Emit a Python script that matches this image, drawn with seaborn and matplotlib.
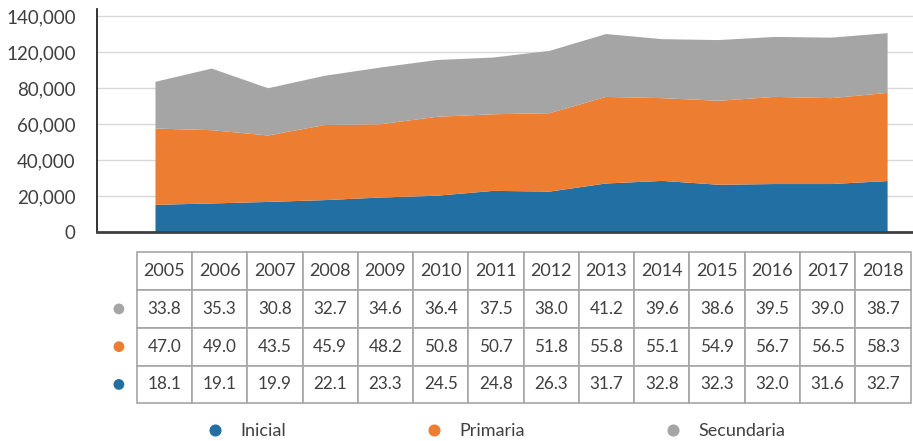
import matplotlib
matplotlib.use("Agg")
import matplotlib.pyplot as plt
from matplotlib.lines import Line2D
import seaborn as sns

# years shown on the chart and in the table
years = [2005, 2006, 2007, 2008, 2009, 2010, 2011, 2012, 2013, 2014, 2015, 2016, 2017, 2018]

# stacked area heights (in the chart's own axis units)
inicial = [15400, 16150, 17000, 18000, 19450, 20450, 23150, 22750, 27250, 28700, 26550, 26950, 26950, 28600]
primaria = [42400, 40750, 36950, 41750, 40750, 43900, 42600, 43600, 48150, 46000, 46700, 48450, 47750, 49050]
secundaria = [26000, 34250, 26250, 27350, 31550, 31550, 31550, 34650, 34950, 32800, 33750, 33350, 33650, 33200]

# values printed in the data table under the chart
tabla_secundaria = [33.8, 35.3, 30.8, 32.7, 34.6, 36.4, 37.5, 38.0, 41.2, 39.6, 38.6, 39.5, 39.0, 38.7]
tabla_primaria = [47.0, 49.0, 43.5, 45.9, 48.2, 50.8, 50.7, 51.8, 55.8, 55.1, 54.9, 56.7, 56.5, 58.3]
tabla_inicial = [18.1, 19.1, 19.9, 22.1, 23.3, 24.5, 24.8, 26.3, 31.7, 32.8, 32.3, 32.0, 31.6, 32.7]

# y axis as labelled in the original (100,000 is skipped there)
y_ticks = [0, 20000, 40000, 60000, 80000, 100000, 120000]
y_labels = ['0', '20,000', '40,000', '60,000', '80,000', '120,000', '140,000']

series = ['Inicial', 'Primaria', 'Secundaria']
colors = ['#226fa3', '#ed7d31', '#a5a5a5']
text_color = '#404040'

sns.set_theme(style='white')
plt.rcParams['font.family'] = ['Lato', 'DejaVu Sans']

W, H = 913, 441
fig = plt.figure(figsize=(W / 100, H / 100), dpi=100)

# area chart
ax = fig.add_axes([96.7 / W, 1 - 232 / H, 1 - 96.7 / W, (232 - 9.3) / H])
x = list(range(len(years)))
ax.stackplot(x, inicial, primaria, secundaria, colors=colors, linewidth=0, zorder=2)
ax.set_xlim(-1.035, 13.46)
ax.set_ylim(0, 123830)
ax.set_xticks([])
ax.set_yticks(y_ticks)
ax.set_yticklabels(y_labels, fontsize=13.5, color=text_color)
ax.tick_params(axis='y', length=0, pad=15)
ax.yaxis.grid(True, color='#d9d9d9', linewidth=1, zorder=0)
ax.set_axisbelow(True)
for s in ['top', 'right']:
    ax.spines[s].set_visible(False)
ax.spines['left'].set_color('#111111')
ax.spines['left'].set_linewidth(1.2)
ax.spines['bottom'].set_color(text_color)
ax.spines['bottom'].set_linewidth(2)
ax.spines['bottom'].set_zorder(5)

# data table
tax = fig.add_axes([136.7 / W, 1 - 403.3 / H, (910.5 - 136.7) / W, 151 / H])
tax.axis('off')
cells = [[str(y) for y in years]]
for row in [tabla_secundaria, tabla_primaria, tabla_inicial]:
    cells.append([f'{v:.1f}' for v in row])
tbl = tax.table(cellText=cells, cellLoc='center', bbox=[0, 0, 1, 1])
tbl.auto_set_font_size(False)
for (r, c), cell in tbl.get_celld().items():
    cell.set_edgecolor('#a6a6a6')
    cell.set_linewidth(1.2)
    cell.get_text().set_color(text_color)
    cell.get_text().set_fontsize(13 if r == 0 else 12.3)

# coloured dots in front of each table row
tax.scatter([-0.023] * 3, [0.625, 0.375, 0.125], c=[colors[2], colors[1], colors[0]],
            s=60, clip_on=False, transform=tax.transAxes, linewidths=0)

# legend
handles = [Line2D([], [], marker='o', linestyle='', color=c, markersize=7.7) for c in colors]
fig.legend(handles, series, ncol=3, loc='center', bbox_to_anchor=(0.545, 1 - 431 / H),
           frameon=False, fontsize=13, handlelength=0.6, handletextpad=1.1,
           columnspacing=7.9, labelcolor=text_color, borderpad=0)

fig.savefig('out.png', dpi=100)
